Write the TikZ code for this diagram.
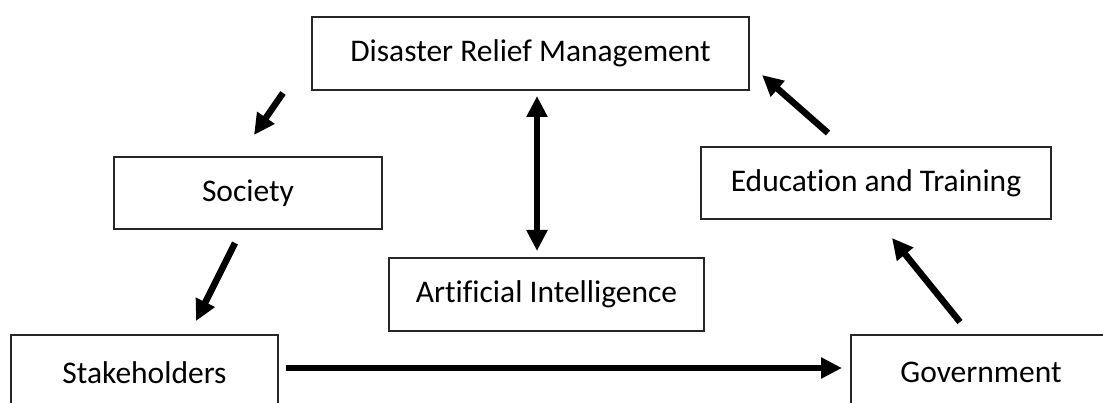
\documentclass[tikz,border=0pt]{standalone}
\usepackage{fontspec}
\setmainfont{Carlito}[Ligatures=CommonOff]
\usetikzlibrary{arrows.meta}
\tikzset{
  box/.style={draw=black!85, line width=2pt, inner sep=0pt, font=\fontsize{31.5}{36}\selectfont},
  flow/.style={line width=6.5pt, -{Triangle[length=21pt,width=20pt]}},
  flow2/.style={line width=6.5pt, {Triangle[length=21pt,width=20pt]}-{Triangle[length=21pt,width=20pt]}}
}
\begin{document}
\begin{tikzpicture}[x=1pt,y=-1pt]
\useasboundingbox (0,0) rectangle (1103,403);
\clip (0,0) rectangle (1103,403);
\node[box, minimum width=437pt, minimum height=73pt] (drm) at (530.5,53.5) {Disaster Relief Management};
\node[box, minimum width=268pt, minimum height=72pt] (soc) at (248,193) {Society};
\node[box, minimum width=350pt, minimum height=72pt] (edu) at (876,183) {Education and Training};
\node[box, minimum width=315pt, minimum height=73pt] (ai) at (546.5,294.5) {Artificial Intelligence};
\node[box, minimum width=267pt, minimum height=75pt] (stk) at (144.5,372.5) {Stakeholders};
\node[box, minimum width=260pt, minimum height=75pt] (gov) at (981,372.5) {Government};
\coordinate (a1s) at (283,93);  \coordinate (a1e) at (254,135);
\coordinate (a2s) at (235,243); \coordinate (a2e) at (196,321);
\coordinate (a3s) at (960,322); \coordinate (a3e) at (892,238);
\coordinate (a4s) at (828,133); \coordinate (a4e) at (762,75);
\draw[flow] (a1s) -- (a1e);
\draw[flow] (a2s) -- (a2e);
\draw[flow] (a3s) -- (a3e);
\draw[flow] (a4s) -- (a4e);
\draw[flow2, shorten <=5pt, shorten >=6pt] ([xshift=6.5pt]drm.south) -- ([xshift=-9.5pt]ai.north);
\draw[flow, shorten <=7pt, shorten >=8pt] (stk.east |- 0,368) -- (gov.west |- 0,368);
\end{tikzpicture}
\end{document}
